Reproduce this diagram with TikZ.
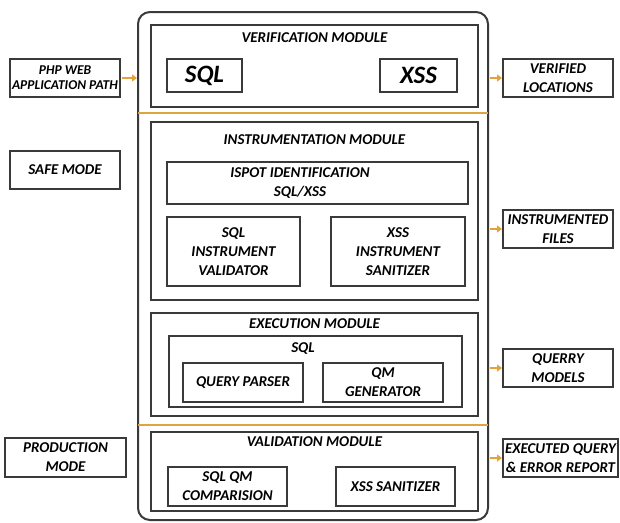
\documentclass[tikz,border=0pt]{standalone}
\usepackage{fontspec}
\setmainfont{Carlito}
\usetikzlibrary{arrows.meta}
\definecolor{linec}{HTML}{3A3A3A}
\definecolor{gold}{HTML}{DDA442}
\definecolor{arrowc}{HTML}{E6A23A}
\tikzset{
  box/.style={draw=linec, line width=2pt, inner sep=0pt, align=center,
    font=\fontsize{15}{19}\selectfont\bfseries\itshape},
  modbox/.style={draw=linec, line width=2pt, inner sep=0pt},
  title/.style={font=\fontsize{15}{17}\selectfont\bfseries\itshape, inner sep=0pt},
  bigtxt/.style={box, font=\fontsize{25}{27}\selectfont\bfseries\itshape},
  feed/.style={draw=arrowc, line width=2.8pt, -{Triangle[length=5pt,width=7pt]}, shorten <=1pt},
  sepline/.style={draw=gold, line width=2.6pt}
}
\begin{document}
\begin{tikzpicture}[x=1pt,y=-1pt]
\useasboundingbox (0,0) rectangle (620,522);

% outer frame
\node[modbox, rounded corners=12pt, minimum width=350pt, minimum height=508pt] (outer) at (313,266) {};

% verification module
\node[modbox, minimum width=327pt, minimum height=82pt] (verif) at (314.5,66) {};
\node[title] (verift) at (314.5,38) {VERIFICATION MODULE};
\node[bigtxt, minimum width=75pt, minimum height=33pt] (sqlv) at (204.5,75.5) {SQL};
\node[bigtxt, minimum width=77pt, minimum height=33pt] (xssv) at (418.5,75.5) {XSS};

\coordinate (s1l) at (138,113);
\coordinate (s1r) at (488,113);
\draw[sepline] (s1l) -- (s1r);

% instrumentation module
\node[modbox, minimum width=327pt, minimum height=178pt] (instr) at (314.5,211) {};
\node[title] (instrt) at (314.5,140) {INSTRUMENTATION MODULE};
\node[modbox, minimum width=301pt, minimum height=42pt] (ispot) at (317.5,183) {};
\node[box, draw=none] (ispott) at (300,183) {ISPOT IDENTIFICATION\\SQL/XSS};
\node[box, minimum width=133pt, minimum height=69pt] (sqlins) at (233.5,251.5) {SQL\\INSTRUMENT\\VALIDATOR};
\node[box, minimum width=134pt, minimum height=69pt] (xssins) at (398,251.5) {XSS\\INSTRUMENT\\SANITIZER};

% execution module
\node[modbox, minimum width=327pt, minimum height=103pt] (exec) at (314.5,364.5) {};
\node[title] (exect) at (314.5,324) {EXECUTION MODULE};
\node[modbox, minimum width=293pt, minimum height=71pt] (sqlexec) at (315.5,371.5) {};
\node[title] (sqlexect) at (303,349) {SQL};
\node[box, minimum width=120pt, minimum height=39pt] (qparser) at (243,382.5) {QUERY PARSER};
\node[box, minimum width=120pt, minimum height=39pt] (qmgen) at (383,382.5) {QM\\GENERATOR};

\coordinate (s2l) at (138,425);
\coordinate (s2r) at (488,425);
\draw[sepline] (s2l) -- (s2r);

% validation module
\node[modbox, minimum width=327pt, minimum height=79pt] (valid) at (314.5,471.5) {};
\node[title] (validt) at (314.5,442) {VALIDATION MODULE};
\node[box, minimum width=119pt, minimum height=39pt] (sqlqm) at (227.5,486.5) {SQL QM\\COMPARISION};
\node[box, minimum width=119pt, minimum height=39pt] (xsssan) at (395.5,486.5) {XSS SANITIZER};

% left side
\node[box, minimum width=110pt, minimum height=38pt, font=\fontsize{13.5}{15}\selectfont\bfseries\itshape] (php) at (65,78) {PHP WEB\\APPLICATION PATH};
\node[box, minimum width=110pt, minimum height=38pt] (safe) at (65,170) {SAFE MODE};
\node[box, minimum width=121pt, minimum height=39pt] (prod) at (65.5,457.5) {PRODUCTION\\MODE};

% right side
\node[box, minimum width=110pt, minimum height=38pt] (verloc) at (558,78) {VERIFIED\\LOCATIONS};
\node[box, minimum width=110pt, minimum height=38pt] (instf) at (558,229) {INSTRUMENTED\\FILES};
\node[box, minimum width=110pt, minimum height=38pt] (qmod) at (558,368) {QUERRY\\MODELS};
\node[box, minimum width=115pt, minimum height=38pt] (exrep) at (560.5,458) {EXECUTED QUERY\\\& ERROR REPORT};

% feeds
\draw[feed] (php.east) -- (php.east -| outer.west);
\draw[feed] (outer.east |- verloc.west) -- (verloc.west);
\draw[feed] (outer.east |- instf.west) -- (instf.west);
\draw[feed] (outer.east |- qmod.west) -- (qmod.west);
\draw[feed] (outer.east |- exrep.west) -- (exrep.west);
\end{tikzpicture}
\end{document}
